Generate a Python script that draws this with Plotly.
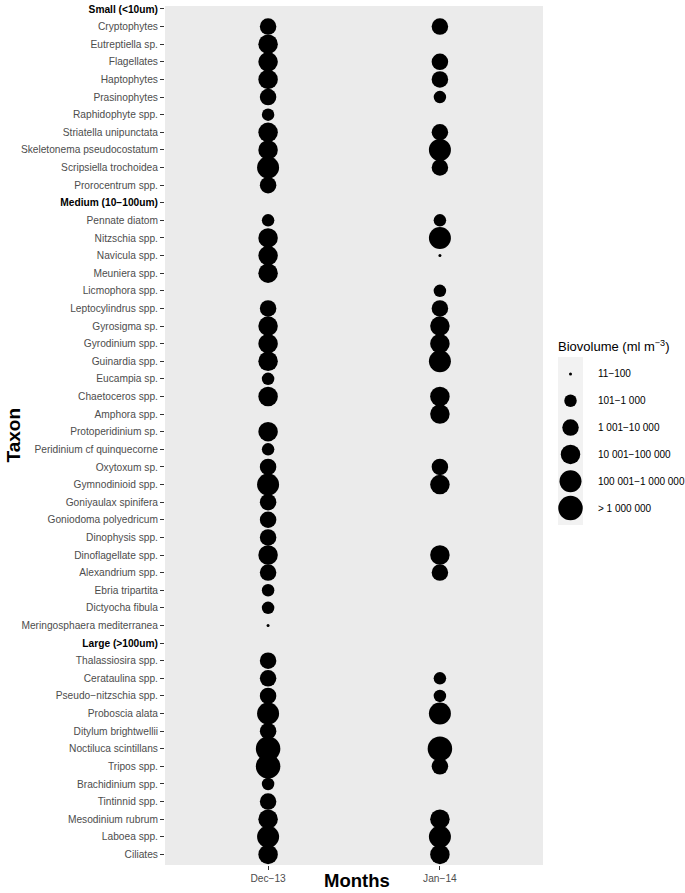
import plotly.graph_objects as go

# ---------------- data ----------------
taxa = [
    "Small (&lt;10um)", "Cryptophytes", "Eutreptiella sp.", "Flagellates", "Haptophytes",
    "Prasinophytes", "Raphidophyte spp.", "Striatella unipunctata",
    "Skeletonema pseudocostatum", "Scripsiella trochoidea", "Prorocentrum spp.",
    "Medium (10−100um)", "Pennate diatom", "Nitzschia spp.", "Navicula spp.",
    "Meuniera spp.", "Licmophora spp.", "Leptocylindrus spp.", "Gyrosigma sp.",
    "Gyrodinium spp.", "Guinardia spp.", "Eucampia sp.", "Chaetoceros spp.",
    "Amphora spp.", "Protoperidinium sp.", "Peridinium cf quinquecorne",
    "Oxytoxum sp.", "Gymnodinioid spp.", "Goniyaulax spinifera",
    "Goniodoma polyedricum", "Dinophysis spp.", "Dinoflagellate spp.",
    "Alexandrium spp.", "Ebria tripartita", "Dictyocha fibula",
    "Meringosphaera mediterranea",
    "Large (&gt;100um)", "Thalassiosira spp.", "Cerataulina spp.",
    "Pseudo−nitzschia spp.", "Proboscia alata", "Ditylum brightwellii",
    "Noctiluca scintillans", "Tripos spp.", "Brachidinium spp.", "Tintinnid spp.",
    "Mesodinium rubrum", "Laboea spp.", "Ciliates",
]
group_headers = ["Small (&lt;10um)", "Medium (10−100um)", "Large (&gt;100um)"]

months = ["Dec−13", "Jan−14"]

size_classes = ["11−100", "101−1 000", "1 001−10 000", "10 001−100 000",
                "100 001−1 000 000", "&gt; 1 000 000"]

# biovolume class (1..6 -> size_classes) per taxon, None = absent
dec13 = [None, 3, 4, 4, 4, 3, 2, 4, 4, 5, 3,
         None, 2, 4, 4, 4, None, 3, 4, 4, 4, 2, 4, None, 4, 2, 3, 5, 3, 3, 3, 4, 3, 2, 2, 1,
         None, 3, 3, 3, 5, 3, 6, 6, 2, 3, 4, 5, 4]
jan14 = [None, 3, None, 3, 3, 2, None, 3, 5, 3, None,
         None, 2, 5, 1, None, 2, 3, 4, 4, 5, None, 4, 4, None, None, 3, 4, None, None, None, 4, 3, None, None, None,
         None, None, 2, 2, 5, None, 6, 3, None, None, 4, 5, 4]

# ---------------- styling ----------------
CLASS_DIAM = [3, 12.5, 16.5, 19.5, 22, 24.5]
FONT = "Liberation Sans, Arial, Helvetica, sans-serif"
W, H = 685, 893
ML, MR, MT, MB = 165, 5, 6, 28
PW = W - ML - MR
PH = H - MT - MB
PANEL_W = 378

def px_x(px):
    return (px - ML) / PW

def px_y(py):
    return 1 - (py - MT) / PH

fig = go.Figure()

for month, classes in zip(months, [dec13, jan14]):
    ys, sizes, names = [], [], []
    for i, c in enumerate(classes):
        if c is not None:
            ys.append(i)
            sizes.append(CLASS_DIAM[c - 1])
            names.append(taxa[i])
    fig.add_trace(go.Scatter(
        x=[month] * len(ys), y=ys, mode="markers",
        marker=dict(size=sizes, color="black", line=dict(width=0), opacity=1),
        text=names, hoverinfo="text+x", showlegend=False,
    ))

# manual size legend
fig.add_trace(go.Scatter(
    x=[0.5] * len(size_classes), y=list(range(len(size_classes))), mode="markers",
    marker=dict(size=CLASS_DIAM, color="black", line=dict(width=0), opacity=1),
    xaxis="x2", yaxis="y2", showlegend=False, hoverinfo="skip",
))

ticktext = []
for t in taxa:
    if t in group_headers:
        ticktext.append(f'<span style="color:black"><b>{t}</b></span>')
    else:
        ticktext.append(t)

TICKFONT = dict(family=FONT, size=10.2, color="#4D4D4D")

fig.update_layout(
    width=W, height=H,
    margin=dict(l=ML, r=MR, t=MT, b=MB),
    paper_bgcolor="white", plot_bgcolor="#EBEBEB",
    font=dict(family=FONT, color="#4D4D4D", size=10.2),
    xaxis=dict(
        domain=[0, PANEL_W / PW],
        type="category", categoryarray=months, range=[-0.6, 1.6],
        showgrid=False, zeroline=False, showline=False,
        ticks="outside", ticklen=4, tickcolor="#333333", tickwidth=1,
        tickfont=TICKFONT, fixedrange=True,
    ),
    yaxis=dict(
        range=[len(taxa) - 1 + 0.6, -0.17],
        tickmode="array", tickvals=list(range(len(taxa))), ticktext=ticktext,
        showgrid=False, zeroline=False, showline=False,
        ticks="outside", ticklen=4, tickcolor="#333333", tickwidth=1,
        tickfont=TICKFONT, fixedrange=True,
    ),
    xaxis2=dict(domain=[px_x(558), px_x(583)], range=[0, 1], visible=False,
                anchor="y2", fixedrange=True),
    yaxis2=dict(domain=[px_y(525), px_y(357)], range=[5.63, -0.63], visible=False,
                anchor="x2", fixedrange=True),
    shapes=[dict(type="rect", xref="x2 domain", yref="y2 domain",
                 x0=0, x1=1, y0=0, y1=1, fillcolor="#F2F2F2",
                 line=dict(width=0), layer="below")],
)

annotations = [
    dict(text="<b>Taxon</b>", xref="paper", yref="paper", x=px_x(13), y=0.5,
         textangle=-90, showarrow=False, xanchor="center", yanchor="middle",
         font=dict(family=FONT, size=19, color="black")),
    dict(text="<b>Months</b>", xref="paper", yref="paper", x=px_x(357), y=px_y(880),
         showarrow=False, xanchor="center", yanchor="middle",
         font=dict(family=FONT, size=18.5, color="black")),
    dict(text="Biovolume (ml m<sup>−3</sup>)", xref="paper", yref="paper",
         x=px_x(556), y=px_y(346), showarrow=False, xanchor="left", yanchor="middle",
         font=dict(family=FONT, size=13, color="black")),
]
for i, lab in enumerate(size_classes):
    annotations.append(dict(
        text=lab, xref="paper", yref="y2", x=px_x(596), y=i, showarrow=False,
        xanchor="left", yanchor="middle",
        font=dict(family=FONT, size=10, color="black")))
fig.update_layout(annotations=annotations)

fig.write_html("out.html", config={"displayModeBar": False},
               post_script="document.body.style.margin='0';")
